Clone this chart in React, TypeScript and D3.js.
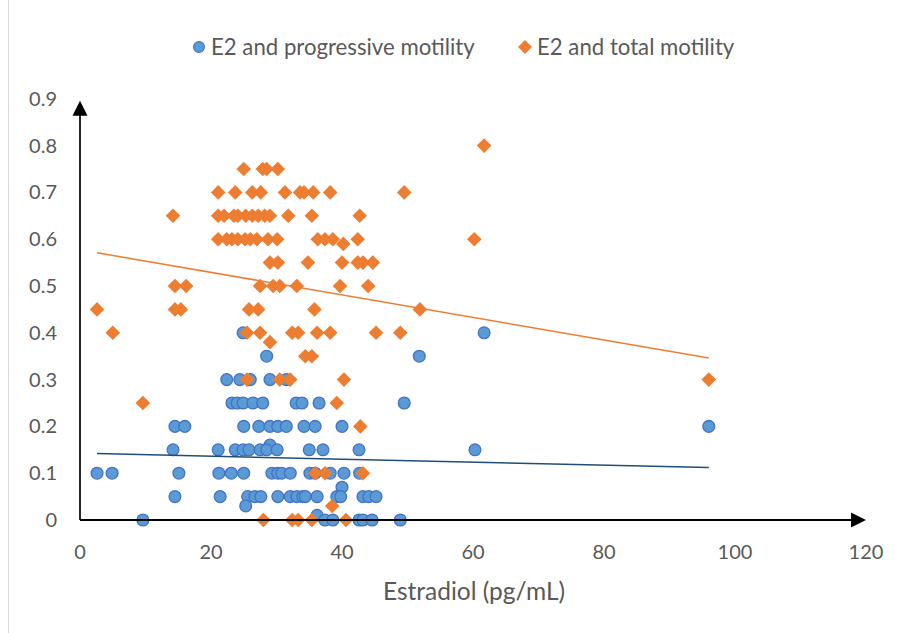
import * as React from 'react';
import * as d3 from 'd3';

// E2 (pg/mL) vs progressive motility
const progressive: [number, number][] = [
  [24.9, 0.4], [61.7, 0.4],
  [28.5, 0.35], [51.8, 0.35],
  [22.4, 0.3], [24.4, 0.3], [26.0, 0.3], [29.0, 0.3], [31.5, 0.3],
  [23.2, 0.25], [24.0, 0.25], [24.9, 0.25], [26.4, 0.25], [27.9, 0.25], [33.0, 0.25], [33.9, 0.25], [36.5, 0.25], [49.5, 0.25],
  [14.5, 0.2], [16.0, 0.2], [25.0, 0.2], [27.3, 0.2], [29.0, 0.2], [30.2, 0.2], [31.5, 0.2], [34.2, 0.2], [35.9, 0.2], [40.0, 0.2], [96.0, 0.2],
  [29.0, 0.16],
  [14.2, 0.15], [21.1, 0.15], [23.7, 0.15], [24.9, 0.15], [25.8, 0.15], [27.5, 0.15], [28.5, 0.15], [30.1, 0.15], [35.0, 0.15], [37.1, 0.15], [42.6, 0.15], [60.3, 0.15],
  [2.6, 0.1], [4.9, 0.1], [15.1, 0.1], [21.2, 0.1], [23.1, 0.1], [25.0, 0.1], [29.3, 0.1], [30.2, 0.1], [30.8, 0.1], [32.1, 0.1], [35.1, 0.1], [35.9, 0.1], [38.2, 0.1], [40.3, 0.1], [42.7, 0.1],
  [40.0, 0.07],
  [14.5, 0.05], [21.4, 0.05], [25.6, 0.05], [26.7, 0.05], [27.6, 0.05], [30.2, 0.05], [32.1, 0.05], [33.1, 0.05], [34.0, 0.05], [34.4, 0.05], [36.2, 0.05], [39.2, 0.05], [39.8, 0.05], [43.2, 0.05], [44.1, 0.05], [45.2, 0.05],
  [25.3, 0.03],
  [36.2, 0.01],
  [9.6, 0], [37.4, 0], [38.6, 0], [42.6, 0], [43.2, 0], [44.6, 0], [48.9, 0],
];

// E2 (pg/mL) vs total motility
const total: [number, number][] = [
  [61.7, 0.8],
  [25.0, 0.75], [27.9, 0.75], [28.5, 0.75], [30.2, 0.75],
  [21.1, 0.7], [23.7, 0.7], [26.3, 0.7], [27.6, 0.7], [31.3, 0.7], [33.6, 0.7], [34.2, 0.7], [35.6, 0.7], [38.2, 0.7], [49.5, 0.7],
  [14.2, 0.65], [21.1, 0.65], [22.0, 0.65], [23.5, 0.65], [24.1, 0.65], [25.3, 0.65], [26.3, 0.65], [27.2, 0.65], [28.2, 0.65], [29.0, 0.65], [31.8, 0.65], [35.4, 0.65], [42.7, 0.65],
  [21.1, 0.6], [22.4, 0.6], [23.2, 0.6], [24.1, 0.6], [25.2, 0.6], [26.0, 0.6], [27.0, 0.6], [28.7, 0.6], [30.1, 0.6], [36.3, 0.6], [37.4, 0.6], [38.6, 0.6], [42.4, 0.6], [60.2, 0.6],
  [40.2, 0.59],
  [29.0, 0.55], [30.2, 0.55], [34.8, 0.55], [40.0, 0.55], [42.4, 0.55], [43.2, 0.55], [44.7, 0.55],
  [14.5, 0.5], [16.2, 0.5], [27.5, 0.5], [29.5, 0.5], [30.5, 0.5], [33.1, 0.5], [39.7, 0.5], [44.0, 0.5],
  [2.6, 0.45], [14.5, 0.45], [15.4, 0.45], [25.8, 0.45], [27.2, 0.45], [35.8, 0.45], [51.9, 0.45],
  [5.0, 0.4], [25.5, 0.4], [27.5, 0.4], [32.4, 0.4], [33.3, 0.4], [36.2, 0.4], [38.2, 0.4], [45.2, 0.4], [48.9, 0.4],
  [29.0, 0.38],
  [34.4, 0.35], [35.4, 0.35],
  [25.5, 0.3], [30.5, 0.3], [32.1, 0.3], [40.3, 0.3], [96.0, 0.3],
  [9.6, 0.25], [39.2, 0.25],
  [42.8, 0.2],
  [35.9, 0.1], [37.4, 0.1], [43.2, 0.1],
  [38.5, 0.03],
  [28.0, 0], [32.4, 0], [33.3, 0], [35.4, 0], [40.6, 0],
];

// linear trendline ends as drawn in the picture
const progressiveTrend: [number, number][] = [[2.6, 0.142], [96.0, 0.112]];
const totalTrend: [number, number][] = [[2.6, 0.571], [96.0, 0.346]];

const xTicks = [0, 20, 40, 60, 80, 100, 120];
const yTicks = [0, 0.1, 0.2, 0.3, 0.4, 0.5, 0.6, 0.7, 0.8, 0.9];

const FONT = 'Lato, "Open Sans", sans-serif';
const TEXT = '#595959';
const BLUE = '#5b9bd5';
const BLUE_EDGE = '#4472c4';
const ORANGE = '#ed7d31';

export default function App() {
  const width = 901;
  const height = 633;
  const x = d3.scaleLinear().domain([0, 120]).range([80, 866]);
  const y = d3.scaleLinear().domain([0, 0.9]).range([520, 98.8]);
  const line = d3.line<[number, number]>().x((d) => x(d[0])).y((d) => y(d[1]));
  const diamond = (cx: number, cy: number, r: number) =>
    `M${cx},${cy - r}L${cx + r},${cy}L${cx},${cy + r}L${cx - r},${cy}Z`;

  const x0 = x(0);
  const y0 = y(0);
  const xEnd = x(120);
  const yTop = y(0.9) + 2;

  return (
    <svg width={width} height={height} style={{ position: 'absolute', left: 0, top: 0, background: '#fff' }}>
      <rect x={0} y={0} width={width} height={height} fill="#fff" />
      <line x1={8.5} x2={8.5} y1={0} y2={height} stroke="#d9d9d9" />

      {/* legend */}
      <g fontFamily={FONT} fontSize={22.2} fill={TEXT}>
        <circle cx={199} cy={47} r={5.4} fill={BLUE} stroke={BLUE_EDGE} strokeWidth={1.2} />
        <text x={211} y={47} dy="0.35em">E2 and progressive motility</text>
        <path d={diamond(525, 47, 7)} fill={ORANGE} />
        <text x={537} y={47} dy="0.35em">E2 and total motility</text>
      </g>

      {/* points */}
      <g>
        {progressive.map((d, i) => (
          <circle key={i} cx={x(d[0])} cy={y(d[1])} r={5.9} fill={BLUE} stroke={BLUE_EDGE} strokeWidth={1.3} />
        ))}
      </g>
      <g>
        {total.map((d, i) => (
          <path key={i} d={diamond(x(d[0]), y(d[1]), 7.3)} fill={ORANGE} />
        ))}
      </g>

      {/* axes with arrows */}
      <line x1={x0} x2={x0} y1={y0} y2={yTop + 10} stroke="#262626" strokeWidth={2} />
      <path d={`M${x0},${yTop}L${x0 + 7.5},${yTop + 15}L${x0 - 7.5},${yTop + 15}Z`} fill="#000" />
      <line x1={x0} x2={xEnd - 10} y1={y0} y2={y0} stroke="#000" strokeWidth={2} />
      <path d={`M${xEnd},${y0}L${xEnd - 15},${y0 - 7.5}L${xEnd - 15},${y0 + 7.5}Z`} fill="#000" />

      {/* trendlines */}
      <path d={line(progressiveTrend)!} fill="none" stroke="#1f4e79" strokeWidth={1.5} />
      <path d={line(totalTrend)!} fill="none" stroke={ORANGE} strokeWidth={1.5} />

      {/* tick labels */}
      <g fontFamily={FONT} fontSize={20} fill={TEXT}>
        {yTicks.map((t) => (
          <text key={t} x={57} y={y(t)} dy="0.35em" textAnchor="end">{d3.format('~g')(t)}</text>
        ))}
        {xTicks.map((t) => (
          <text key={t} x={x(t)} y={552} dy="0.35em" textAnchor="middle">{t}</text>
        ))}
      </g>
      <text x={474} y={591} dy="0.35em" textAnchor="middle" fontFamily={FONT} fontSize={24.5} fill={TEXT}>
        Estradiol (pg/mL)
      </text>
    </svg>
  );
}
